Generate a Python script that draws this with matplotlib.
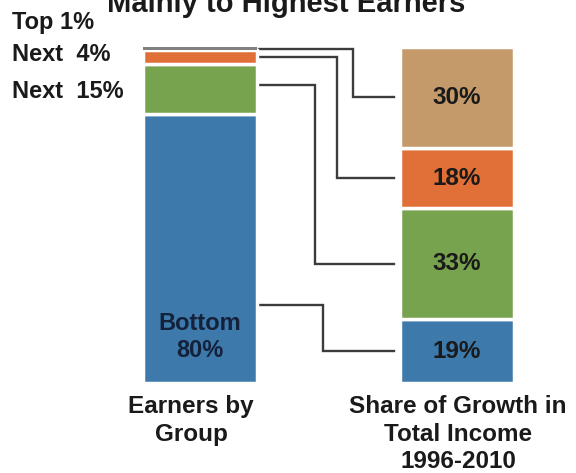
import matplotlib.pyplot as plt

plt.rcParams['font.family'] = ['Liberation Sans', 'DejaVu Sans']
plt.rcParams['font.weight'] = 'bold'

# stacked from the bottom up
groups = ['Bottom 80%', 'Next 15%', 'Next 4%', 'Top 1%']
earners_share = [80, 15, 4, 1]
growth_share = [19, 33, 18, 30]
growth_labels = ['19%', '33%', '18%', '30%']

left_colors = ['#3d79ab', '#77a24e', '#e07038', '#808080']
right_colors = ['#3d79ab', '#77a24e', '#e07038', '#c59a6b']

side_labels = ['Next  15%', 'Next  4%', 'Top 1%']
side_label_y = [86.9, 97.9, 107.4]

# connector layout (x in bar units, start point as fraction of the left segment)
start_frac = [0.29, 0.58, 0.5, 0.5]
elbow_x = [0.479, 0.447, 0.533, 0.595]
x_start, x_end = 0.23, 0.755

fig = plt.figure(figsize=(5.76, 4.73), dpi=100)
ax = fig.add_axes([0, 90 / 473, 1, 336 / 473])
ax.set_xlim(-200 / 257, 376 / 257)
ax.set_ylim(0, 100)
ax.axis('off')

width = 0.447

def stack(x, values, colors):
    bottoms = []
    b = 0
    for v, c in zip(values, colors):
        thin = v < 2
        ax.bar(x, v, width, bottom=b, color=c,
               edgecolor='white' if not thin else c,
               linewidth=0 if thin else 2.5,
               zorder=3 if thin else 2)
        bottoms.append(b)
        b += v
    return bottoms

left_b = stack(0, earners_share, left_colors)
right_b = stack(1, growth_share, right_colors)

# connectors from each earner group to its share of growth
for i in range(len(groups)):
    y0 = left_b[i] + earners_share[i] * start_frac[i]
    y1 = right_b[i] + growth_share[i] / 2
    ax.plot([x_start, elbow_x[i], elbow_x[i], x_end], [y0, y0, y1, y1],
            color='#3c3c3c', lw=1.7, solid_joinstyle='miter', zorder=1)

for i, lab in enumerate(growth_labels):
    ax.text(1, right_b[i] + growth_share[i] / 2, lab, ha='center', va='center',
            fontsize=17.5, color='#1a1a1a')

ax.text(0, 13.7, 'Bottom\n80%', ha='center', va='center', fontsize=17,
        color='#14213a', linespacing=1.25)

for lab, y in zip(side_labels, side_label_y):
    ax.text(-0.7315, y, lab, ha='left', va='center', fontsize=17,
            color='#1a1a1a', clip_on=False)

ax.text(-0.035, -3.6, 'Earners by\nGroup', ha='center', va='top', fontsize=17.5,
        color='#1a1a1a', linespacing=1.3, clip_on=False)
ax.text(1.004, -3.6, 'Share of Growth in\nTotal Income\n1996-2010', ha='center',
        va='top', fontsize=17.5, color='#1a1a1a', linespacing=1.25, clip_on=False)

fig.text(286 / 576, 1 - 12 / 473, 'Mainly to Highest Earners', ha='center',
         va='baseline', fontsize=21, color='#1a1a1a')

fig.savefig('out.png', dpi=100, facecolor='white')
